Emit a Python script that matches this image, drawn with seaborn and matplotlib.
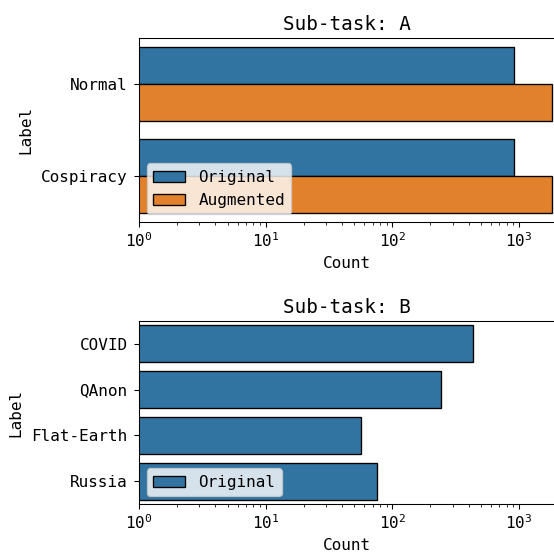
import matplotlib
matplotlib.use("Agg")
import matplotlib.pyplot as plt
import seaborn as sns
import pandas as pd

# Sub-task A
a_labels = ["Normal", "Cospiracy"]
a_original = [918, 920]
a_augmented = [1830, 1840]

# Sub-task B
b_labels = ["COVID", "QAnon", "Flat-Earth", "Russia"]
b_original = [437, 243, 57, 76]

plt.rcParams["font.family"] = ["DejaVu Sans Mono", "DejaVu Sans"]
plt.rcParams["font.size"] = 12
plt.rcParams["ytick.major.pad"] = 5

df_a = pd.DataFrame({
    "Label": a_labels * 2,
    "Count": a_original + a_augmented,
    "Set": ["Original"] * len(a_labels) + ["Augmented"] * len(a_labels),
})
df_b = pd.DataFrame({
    "Label": b_labels,
    "Count": b_original,
    "Set": ["Original"] * len(b_labels),
})

DPI = 96
fig = plt.figure(figsize=(554 / DPI, 554 / DPI), dpi=DPI)
ax1 = fig.add_axes([0.251, 0.599, 0.752, 0.332])
ax2 = fig.add_axes([0.251, 0.090, 0.752, 0.331])

for ax, df, title in [(ax1, df_a, "Sub-task: A"), (ax2, df_b, "Sub-task: B")]:
    ax.set_xscale("log")
    sns.barplot(data=df, x="Count", y="Label", hue="Set", ax=ax,
                orient="h", edgecolor="black", linewidth=1.0,
                palette=["#1f77b4", "#ff7f0e"][:df["Set"].nunique()],
                saturation=0.75)
    ax.set_xlim(1, 1950)
    ax.set_title(title)
    ax.set_xlabel("Count")
    ax.set_ylabel("Label", labelpad=6)
    ax.legend(loc="lower left", title=None)

fig.savefig("out.png", dpi=DPI)
